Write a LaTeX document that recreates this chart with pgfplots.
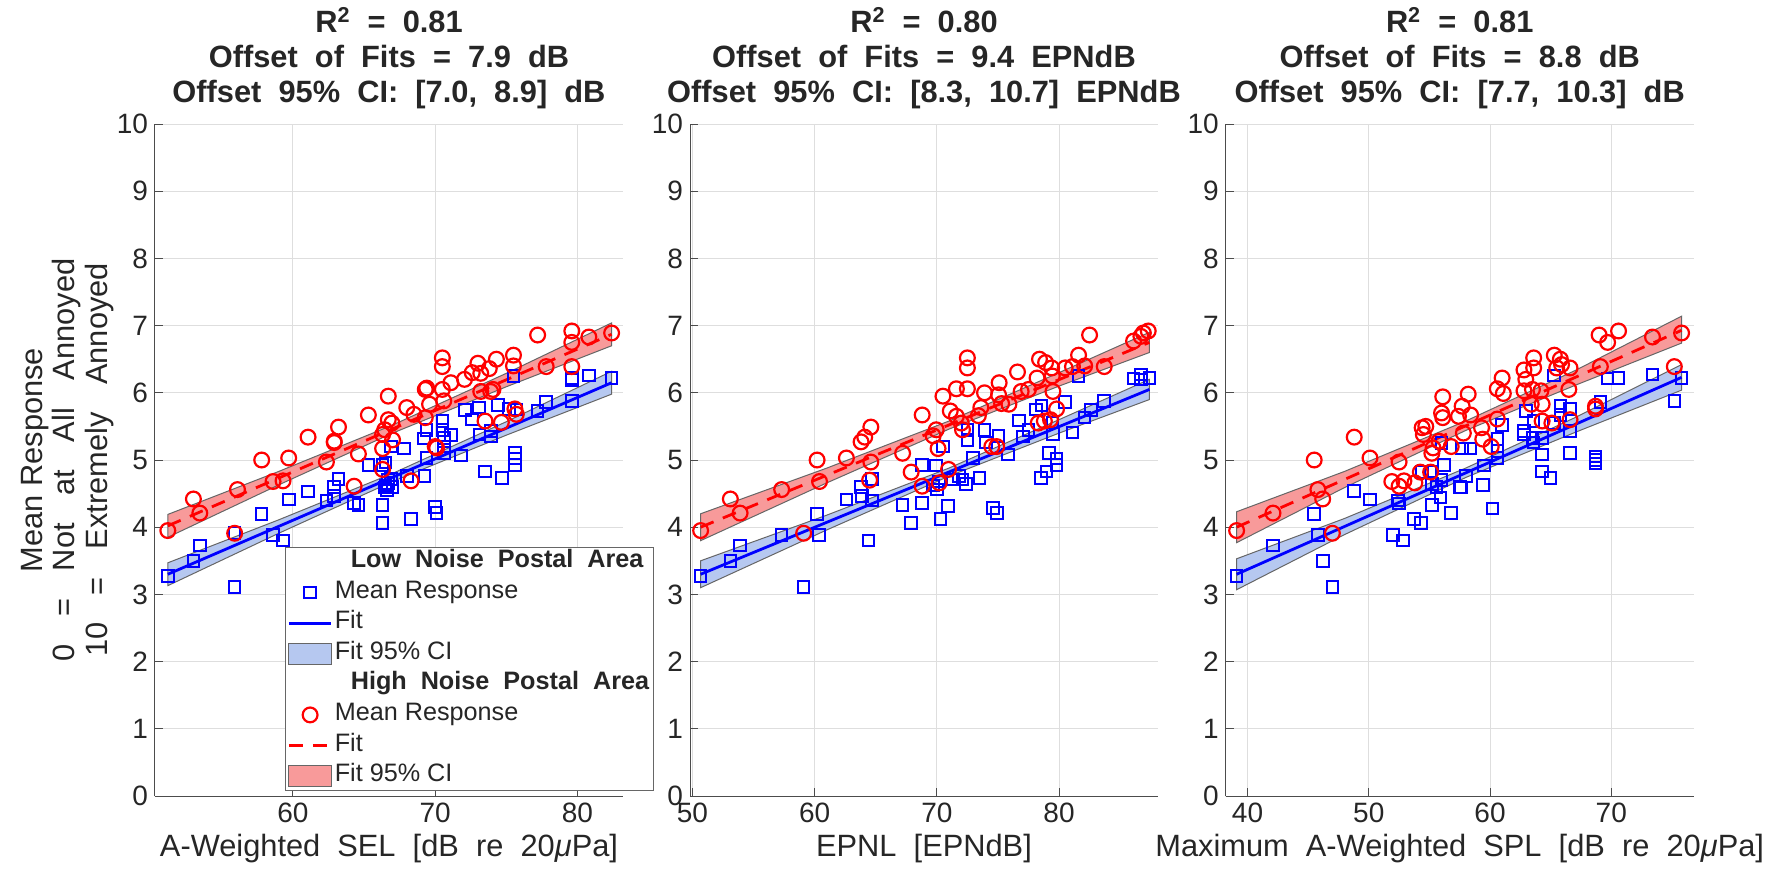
\documentclass[border=0pt]{standalone}
\usepackage{fontspec}
\setmainfont{Liberation Sans}
\usepackage{pgfplots}
\pgfplotsset{compat=1.18}

\definecolor{bandblue}{RGB}{182,200,240}
\definecolor{bandred}{RGB}{248,154,154}
\definecolor{txt}{RGB}{38,38,38}

% wide word spaces, as in the reference's labels
\newcommand\wide[1]{\spaceskip=#1em\relax}

\pgfplotsset{
  panel/.style={
    scale only axis, width=234pt, height=336pt,
    ymin=0, ymax=10, ytick={0,1,...,10},
    grid=major, grid style={black!13, line width=0.5pt},
    axis x line*=bottom, axis y line*=left,
    axis line style={-, black!70, line width=0.5pt},
    tick style={black!70, line width=0.5pt}, major tick length=4pt, tick align=inside,
    ticklabel style={font=\fontsize{14}{16}\selectfont, text=txt},
    /pgf/number format/assume math mode=true,
    title style={font=\bfseries\fontsize{15.4}{17.5}\selectfont\wide{0.556}, align=center, text=txt, yshift=-2pt},
    xlabel style={font=\fontsize{15.4}{18}\selectfont\wide{0.556}, text=txt, yshift=1pt},
    clip=false,
  },
  band/.style={draw=black!60, line width=0.5pt, forget plot},
  sq/.style={only marks, mark=square, mark size=2.9pt, blue, line width=1pt, forget plot},
  ci/.style={only marks, mark=o, mark size=3.7pt, red, line width=1.1pt, forget plot},
  fitb/.style={blue, line width=1.4pt, forget plot},
  fitr/.style={red, line width=1.4pt, dash pattern=on 7pt off 5pt, forget plot},
  lgline/.style={legend image code/.code={\draw[##1] (0pt,0pt) -- (21.3pt,0pt);}},
  lgmark/.style={legend image code/.code={\draw[##1] plot coordinates {(10.65pt,0pt)};}},
  lgpatch/.style={legend image code/.code={\draw[##1] (0pt,-5.2pt) rectangle (21.3pt,5.2pt);}},
}

\begin{document}
\begin{tikzpicture}
\path[use as bounding box] (-77.5pt,-39.5pt) rectangle (811pt,398pt);

% ---- panel 1: SEL ----
\begin{axis}[panel, at={(0pt,0pt)}, anchor=south west,
  xmin=50.3, xmax=83.2, xtick={60,70,80},
  title={R\textsuperscript{2} = 0.81\\Offset of Fits = 7.9 dB\\Offset 95\% CI: [7.0, 8.9] dB},
  xlabel={A-Weighted SEL [dB re 20\textit{μ}Pa]},
  ylabel={\begin{tabular}{@{}c@{}}Mean Response\\\wide{0.9}0 = Not at All Annoyed\\\wide{0.9}10 = Extremely Annoyed\end{tabular}},
  ylabel style={font=\fontsize{15.4}{16.2}\selectfont, text=txt, yshift=-7pt},
  legend style={at={(0.2778,0.3705)}, anchor=north west, draw=black!60, fill=white,
    font=\fontsize{12.6}{15}\selectfont, text=txt, inner xsep=1pt, inner ysep=1pt, row sep=2.8pt,
    nodes={inner xsep=1pt, inner ysep=1.5pt, text height=0.75em, text depth=0.2em}},
  legend cell align=left,
]
\addplot[band, fill=bandblue] coordinates {(51.2,3.47) (59,4.11) (67,4.80) (75,5.57) (82.4,6.32) (82.4,5.98) (75,5.37) (67,4.68) (59,3.91) (51.2,3.13)} -- cycle;
\addplot[band, fill=bandred] coordinates {(51.2,4.19) (59,4.83) (67,5.52) (75,6.29) (82.4,7.04) (82.4,6.70) (75,6.09) (67,5.40) (59,4.63) (51.2,3.85)} -- cycle;
\addplot[sq] coordinates {(51.2,3.27) (53.0,3.50) (53.45,3.73) (55.9,3.11) (55.9,3.91) (57.8,4.20) (58.6,3.88) (59.3,3.80) (59.7,4.41) (61.06,4.53) (62.35,4.40) (62.9,4.60) (62.9,4.46) (63.2,4.72) (64.3,4.36) (64.6,4.33) (65.3,4.93) (66.3,4.33) (66.3,4.06) (66.3,4.93) (66.45,4.59) (66.7,4.71) (66.9,5.20) (66.5,4.62) (66.7,4.66) (66.9,4.72) (67.0,4.60) (66.6,4.55) (68.3,4.12) (70.0,4.30) (70.1,4.21) (69.25,4.76) (67.8,5.17) (66.5,4.96) (69.4,5.03) (69.2,5.32) (69.4,5.45) (70.5,5.58) (70.5,5.45) (70.6,5.33) (71.1,5.37) (70.6,5.20) (70.6,5.10) (71.8,5.07) (72.1,5.74) (72.6,5.60) (73.06,5.78) (73.1,5.38) (73.5,4.83) (73.9,5.35) (73.9,5.43) (74.4,5.82) (74.7,4.73) (75.2,5.76) (75.5,6.25) (75.6,5.10) (75.6,5.02) (75.6,4.93) (75.7,5.75) (77.2,5.73) (77.8,5.86) (79.6,5.88) (79.6,6.22) (79.6,6.19) (80.8,6.26) (82.4,6.22) (68.0,4.76)};
\addplot[ci] coordinates {(51.2,3.95) (53.0,4.42) (53.45,4.21) (55.9,3.91) (56.1,4.56) (57.8,5.00) (58.6,4.68) (59.3,4.69) (59.7,5.03) (61.06,5.34) (62.35,4.97) (62.9,5.28) (62.9,5.26) (63.2,5.49) (64.3,4.61) (64.6,5.09) (65.3,5.67) (66.3,4.86) (66.3,5.17) (66.45,5.45) (66.3,5.38) (66.7,5.95) (66.7,5.60) (66.95,5.55) (67.0,5.30) (68.0,5.78) (68.5,5.68) (68.3,4.69) (69.3,6.05) (69.4,6.07) (69.3,5.63) (69.6,5.83) (70.0,5.20) (70.1,5.18) (70.5,6.52) (70.5,6.39) (70.5,6.05) (70.6,5.88) (71.1,6.15) (72.06,6.20) (72.6,6.30) (73.0,6.44) (73.2,6.29) (73.2,6.02) (73.5,5.58) (73.8,6.36) (73.9,6.02) (74.06,6.05) (74.3,6.50) (74.65,5.56) (75.5,6.56) (75.5,6.40) (75.6,5.76) (75.7,5.68) (77.8,6.39) (77.2,6.86) (79.6,6.92) (79.6,6.75) (79.6,6.39) (80.8,6.83) (82.4,6.89)};
\addplot[fitb] coordinates {(51.2,3.30) (82.4,6.15)};
\addplot[fitr] coordinates {(51.2,4.02) (82.4,6.87)};
% legend
\addlegendimage{empty legend}
\addlegendentry{\hspace*{8pt}\bfseries\wide{0.556}Low Noise Postal Area}
\addlegendimage{lgmark, only marks, mark=square, mark size=2.9pt, blue, line width=1pt}
\addlegendentry{Mean Response}
\addlegendimage{lgline, blue, line width=1.4pt}
\addlegendentry{Fit}
\addlegendimage{lgpatch, fill=bandblue, draw=black!60, line width=0.5pt}
\addlegendentry{Fit 95\% CI}
\addlegendimage{empty legend}
\addlegendentry{\hspace*{8pt}\bfseries\wide{0.556}High Noise Postal Area}
\addlegendimage{lgmark, only marks, mark=o, mark size=3.7pt, red, line width=1.1pt}
\addlegendentry{Mean Response}
\addlegendimage{lgline, red, line width=1.4pt, dash pattern=on 7pt off 5pt}
\addlegendentry{Fit}
\addlegendimage{lgpatch, fill=bandred, draw=black!60, line width=0.5pt}
\addlegendentry{Fit 95\% CI}
\end{axis}

% ---- panel 2: EPNL ----
\begin{axis}[panel, at={(267.5pt,0pt)}, anchor=south west,
  xmin=49.8, xmax=88.1, xtick={50,60,70,80},
  title={R\textsuperscript{2} = 0.80\\Offset of Fits = 9.4 EPNdB\\Offset 95\% CI: [8.3, 10.7] EPNdB},
  xlabel={EPNL [EPNdB]},
]
\addplot[band, fill=bandblue] coordinates {(50.67,3.50) (61,4.18) (71,4.88) (80,5.60) (87.4,6.20) (87.4,5.90) (80,5.40) (71,4.76) (61,3.96) (50.67,3.10)} -- cycle;
\addplot[band, fill=bandred] coordinates {(50.67,4.20) (61,4.88) (71,5.58) (80,6.30) (87.4,6.90) (87.4,6.60) (80,6.10) (71,5.46) (61,4.66) (50.67,3.80)} -- cycle;
\addplot[sq] coordinates {(50.67,3.27) (53.1,3.50) (53.9,3.73) (59.1,3.11) (57.3,3.88) (60.35,3.88) (60.2,4.20) (62.6,4.41) (63.8,4.60) (63.9,4.46) (64.7,4.72) (64.7,4.40) (64.4,3.80) (67.2,4.33) (67.9,4.06) (68.8,4.93) (68.8,4.36) (70.3,4.12) (70.9,4.32) (69.7,4.62) (70.2,4.68) (70.0,4.56) (70.5,5.20) (69.95,4.92) (71.3,4.71) (71.8,4.76) (72.4,4.64) (72.1,4.71) (73.5,4.73) (72.5,5.30) (72.5,5.45) (73.9,5.45) (74.0,5.26) (72.95,5.03) (74.6,4.29) (74.9,4.21) (75.05,5.36) (75.8,5.08) (76.7,5.59) (77.05,5.35) (77.5,5.45) (78.1,5.75) (78.55,5.81) (78.5,4.73) (78.96,4.83) (79.2,5.10) (79.8,5.02) (79.8,4.93) (79.5,5.39) (79.45,5.56) (80.5,5.86) (81.6,6.25) (81.1,5.41) (82.1,5.63) (82.6,5.74) (83.7,5.88) (86.1,6.21) (86.7,6.27) (86.7,6.20) (87.4,6.22)};
\addplot[ci] coordinates {(50.67,3.95) (53.1,4.42) (53.9,4.21) (57.3,4.56) (59.1,3.91) (60.2,5.00) (60.4,4.68) (62.6,5.03) (63.8,5.27) (64.1,5.34) (64.6,5.49) (64.6,4.97) (64.5,4.70) (67.2,5.10) (67.9,4.82) (68.8,5.67) (68.8,4.61) (69.95,5.45) (69.7,5.36) (70.1,5.17) (70.5,5.95) (70.96,4.86) (70.2,4.66) (71.1,5.73) (71.6,6.06) (71.6,5.65) (72.0,5.55) (72.5,6.06) (72.5,6.52) (72.5,6.37) (72.1,5.45) (73.4,5.66) (73.6,5.78) (73.9,6.00) (74.5,5.20) (74.9,5.20) (75.1,6.15) (75.05,5.97) (75.3,5.84) (75.9,5.83) (76.6,6.31) (76.9,6.02) (77.5,6.05) (78.2,6.22) (78.4,6.50) (78.9,6.45) (79.4,6.37) (79.45,6.25) (79.5,6.02) (78.3,5.55) (78.8,5.58) (79.3,5.60) (79.8,5.76) (80.5,6.37) (81.1,6.39) (81.6,6.56) (82.1,6.40) (82.5,6.86) (83.7,6.39) (86.1,6.77) (86.7,6.84) (86.9,6.89) (87.3,6.92)};
\addplot[fitb] coordinates {(50.67,3.30) (87.4,6.05)};
\addplot[fitr] coordinates {(50.67,4.00) (87.4,6.75)};
\end{axis}

% ---- panel 3: max SPL ----
\begin{axis}[panel, at={(535.35pt,0pt)}, anchor=south west,
  xmin=38.2, xmax=76.8, xtick={40,50,60,70},
  title={R\textsuperscript{2} = 0.81\\Offset of Fits = 8.8 dB\\Offset 95\% CI: [7.7, 10.3] dB},
  xlabel={Maximum A-Weighted SPL [dB re 20\textit{μ}Pa]},
]
\addplot[band, fill=bandblue] coordinates {(39.1,3.53) (48,4.13) (58,4.88) (67,5.63) (75.8,6.42) (75.8,6.04) (67,5.41) (58,4.74) (48,3.89) (39.1,3.07)} -- cycle;
\addplot[band, fill=bandred] coordinates {(39.1,4.23) (48,4.83) (58,5.58) (67,6.33) (75.8,7.14) (75.8,6.74) (67,6.11) (58,5.44) (48,4.59) (39.1,3.77)} -- cycle;
\addplot[sq] coordinates {(39.1,3.27) (42.1,3.73) (45.5,4.20) (45.8,3.88) (46.2,3.50) (47.0,3.11) (48.8,4.54) (50.1,4.41) (52.0,3.88) (52.8,3.80) (52.4,4.40) (52.5,4.35) (53.75,4.12) (54.3,4.06) (55.2,4.33) (55.9,4.44) (55.2,4.64) (55.6,4.60) (56.0,4.70) (54.4,4.82) (55.1,4.83) (56.2,4.93) (56.0,5.25) (56.8,4.21) (57.5,4.60) (57.7,5.17) (58.4,5.17) (57.6,4.59) (58.0,4.76) (59.4,4.63) (59.5,4.92) (60.2,4.28) (60.6,5.03) (60.6,5.31) (61.0,5.52) (60.6,5.13) (62.8,5.43) (62.8,5.38) (62.95,5.73) (63.5,5.33) (63.6,5.58) (63.6,5.26) (64.3,5.33) (64.3,5.08) (64.3,4.83) (65.0,4.73) (65.3,6.26) (65.3,5.55) (65.8,5.80) (65.8,5.67) (66.6,5.76) (66.6,5.43) (66.6,5.10) (68.7,5.00) (68.7,4.95) (68.7,5.05) (69.1,5.86) (69.7,6.21) (70.6,6.22) (73.4,6.27) (75.2,5.88) (75.8,6.22)};
\addplot[ci] coordinates {(39.1,3.95) (42.1,4.21) (45.5,5.00) (45.8,4.56) (46.2,4.42) (47.0,3.91) (48.8,5.34) (50.1,5.03) (51.9,4.68) (52.5,4.61) (52.9,4.69) (52.5,4.97) (53.8,4.66) (54.25,4.82) (54.4,5.48) (54.7,5.50) (54.5,5.38) (55.2,5.10) (55.3,5.18) (55.8,5.28) (56.0,5.70) (56.1,5.63) (56.1,5.94) (56.8,5.20) (55.1,4.82) (57.7,5.80) (57.4,5.65) (57.8,5.40) (58.2,5.98) (58.4,5.67) (59.3,5.48) (59.4,5.31) (60.1,5.20) (60.6,6.06) (61.0,6.22) (61.1,5.99) (60.6,5.61) (62.8,6.34) (62.95,6.20) (63.6,6.52) (63.6,6.37) (63.4,5.83) (63.5,6.05) (62.8,6.03) (64.3,5.83) (64.2,6.03) (64.3,5.58) (65.1,5.55) (65.3,6.56) (65.8,6.50) (65.9,6.42) (65.5,6.37) (66.6,6.37) (66.5,6.05) (66.6,5.60) (68.7,5.76) (68.7,5.80) (69.0,6.86) (69.7,6.75) (70.6,6.92) (69.1,6.39) (73.4,6.83) (75.2,6.39) (75.8,6.89)};
\addplot[fitb] coordinates {(39.1,3.30) (75.8,6.23)};
\addplot[fitr] coordinates {(39.1,4.00) (75.8,6.93)};
\end{axis}
\end{tikzpicture}
\end{document}
